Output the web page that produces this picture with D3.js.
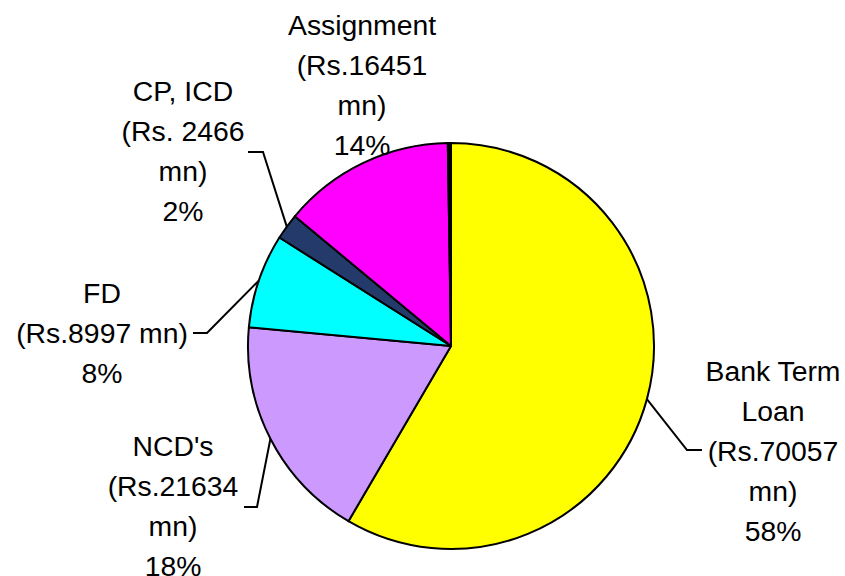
<!DOCTYPE html>
<html>
<head>
<meta charset="utf-8">
<script src="https://cdn.jsdelivr.net/npm/d3@7"></script>
<style>
  body { margin: 0; background: #fff; }
  text { font-family: "Liberation Sans", Arial, sans-serif; fill: #000; }
</style>
</head>
<body>
<svg width="845" height="576"></svg>
<script>
var categories = ["Bank Term Loan", "NCD's", "FD", "CP, ICD", "Assignment", "Others"];
var amounts = [70057, 21634, 8997, 2466, 16451, 300];
var percents = ["58%", "18%", "8%", "2%", "14%", ""];
var labelLines = [
  ["Bank Term", "Loan", "(Rs.70057", "mn)"],
  ["NCD's", "(Rs.21634", "mn)"],
  ["FD", "(Rs.8997 mn)"],
  ["CP, ICD", "(Rs. 2466", "mn)"],
  ["Assignment", "(Rs.16451", "mn)"],
  []
];
var colors = ["#ffff00", "#cc99ff", "#00ffff", "#243a6b", "#ff00ff", "#000000"];

// label layout: centre x, first baseline y, leader elbow + end (null = no leader)
var labelPos = [
  {x: 773, y: 381, elbow: [687, 450], end: [702, 450]},
  {x: 173, y: 456, elbow: [257, 507], end: [244, 507]},
  {x: 102, y: 303, elbow: [207, 333], end: [193, 333]},
  {x: 183, y: 101, elbow: [263, 152], end: [248, 152]},
  {x: 362, y: 35, elbow: null, end: null},
  null
];

var svg = d3.select("svg"),
    cx = 451, cy = 346, radius = 203,
    lineHeight = 40, stretch = 1.05;

var data = categories.map(function(c, i) {
  return {name: c, value: amounts[i], idx: i};
});

var pie = d3.pie().sort(null).value(function(d) { return d.value; });
var arc = d3.arc().innerRadius(0).outerRadius(radius);
var arcs = pie(data);

var g = svg.append("g").attr("transform", "translate(" + cx + "," + cy + ")");

g.selectAll("path")
  .data(arcs)
  .enter().append("path")
    .attr("d", arc)
    .attr("fill", function(d) { return colors[d.data.idx]; })
    .attr("stroke", "#000")
    .attr("stroke-width", 2)
    .attr("stroke-linejoin", "round");

// leader lines
arcs.forEach(function(d) {
  var p = labelPos[d.data.idx];
  if (!p || !p.elbow) return;
  var a = (d.startAngle + d.endAngle) / 2;
  var sx = cx + radius * Math.sin(a),
      sy = cy - radius * Math.cos(a);
  svg.append("polyline")
    .attr("points", [[sx, sy], p.elbow, p.end].map(function(q) { return q.join(","); }).join(" "))
    .attr("fill", "none")
    .attr("stroke", "#000")
    .attr("stroke-width", 2);
});

// labels
data.forEach(function(d) {
  var p = labelPos[d.idx];
  if (!p) return;
  var lines = labelLines[d.idx].concat([percents[d.idx]]);
  var lg = svg.append("g")
    .attr("transform", "translate(" + p.x + ",0) scale(" + stretch + ",1)");
  lines.forEach(function(t, j) {
    lg.append("text")
      .attr("x", 0)
      .attr("y", p.y + j * lineHeight)
      .attr("text-anchor", "middle")
      .style("font-size", "27px")
      .text(t);
  });
});
</script>
</body>
</html>
